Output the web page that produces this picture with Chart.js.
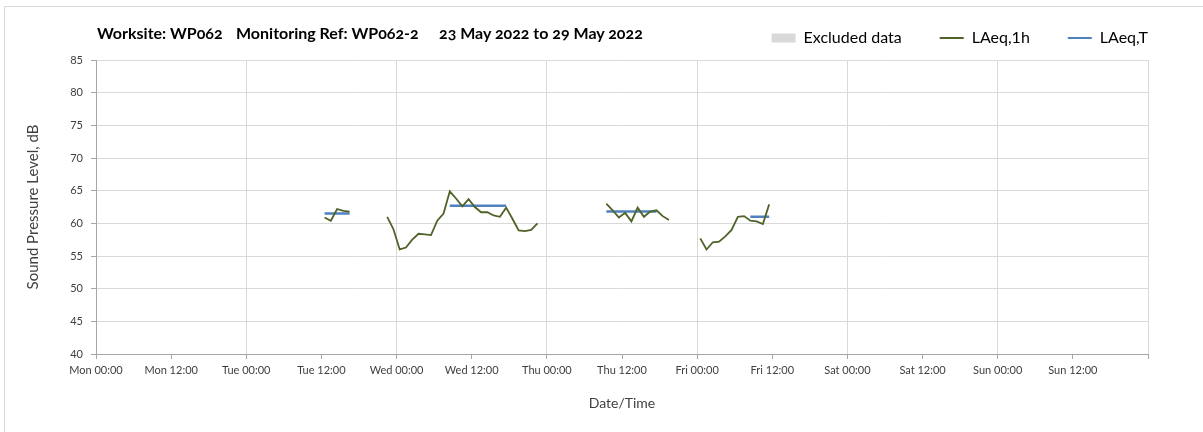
<!DOCTYPE html>
<html>
<head>
<meta charset="utf-8">
<script src="https://cdn.jsdelivr.net/npm/chart.js@4/dist/chart.umd.min.js"></script>
<style>
  html, body { margin: 0; padding: 0; background: #fff; }
  #wrap { position: relative; width: 1203px; height: 432px; overflow: hidden; }
  #frame { position: absolute; left: 4px; top: 6px; width: 1300px; height: 500px;
           border-left: 1px solid #d9d9d9; border-top: 1px solid #d9d9d9; }
  #title { position: absolute; top: 23px; font: bold 16px Lato, sans-serif; color: #000;
           font-variant-numeric: oldstyle-nums; white-space: nowrap; }
  #title span { position: absolute; top: 0; }
</style>
</head>
<body>
<div id="wrap">
  <div id="frame"></div>
  <canvas id="chart" width="1203" height="432"></canvas>
  <div id="title">
    <span style="left:97px">Worksite: WP062</span>
    <span style="left:236px">Monitoring Ref: WP062-2</span>
    <span style="left:439px">23 May 2022 to 29 May 2022</span>
  </div>
</div>
<script>
// Hours from Mon 00:00, values in dB

// LAeq,1h - one array per measured day
const tueHours = [36.5, 37.5, 38.5, 39.5, 40.5];
const tueLAeq1h = [60.9, 60.4, 62.2, 61.9, 61.8];

const wedHours = [46.5, 47.5, 48.5, 49.5, 50.5, 51.5, 52.5, 53.5, 54.5, 55.5, 56.5, 57.5, 58.5,
                  59.5, 60.5, 61.5, 62.5, 63.5, 64.5, 65.5, 66.5, 67.5, 68.5, 69.5, 70.5];
const wedLAeq1h = [61.0, 59.1, 56.0, 56.3, 57.5, 58.4, 58.3, 58.2, 60.4, 61.5, 64.9, 63.8, 62.6,
                   63.7, 62.5, 61.7, 61.7, 61.2, 61.0, 62.4, 60.7, 58.9, 58.8, 59.0, 60.0];

const thuHours = [81.5, 82.5, 83.5, 84.5, 85.5, 86.5, 87.5, 88.5, 89.5, 90.5, 91.5];
const thuLAeq1h = [63.0, 62.0, 60.9, 61.6, 60.3, 62.4, 61.0, 61.8, 62.0, 61.1, 60.5];

const friHours = [96.5, 97.5, 98.5, 99.5, 100.5, 101.5, 102.5, 103.5, 104.5, 105.5, 106.5, 107.5];
const friLAeq1h = [57.7, 56.0, 57.1, 57.2, 58.0, 59.0, 61.0, 61.1, 60.4, 60.3, 59.9, 62.9];

// LAeq,T - one level per period
const laeqTStart = [36.5, 56.5, 81.5, 104.5];
const laeqTEnd = [40.5, 65.5, 89.5, 107.5];
const laeqTValue = [61.5, 62.7, 61.8, 61.0];

const xTickLabels = ['Mon 00:00', 'Mon 12:00', 'Tue 00:00', 'Tue 12:00', 'Wed 00:00', 'Wed 12:00',
                     'Thu 00:00', 'Thu 12:00', 'Fri 00:00', 'Fri 12:00', 'Sat 00:00', 'Sat 12:00',
                     'Sun 00:00', 'Sun 12:00', ''];

function toPoints(hoursList, valuesList) {
    var points = [];
    for (let i = 0; i < hoursList.length; i++) {
        if (i > 0) {
            points.push({x: hoursList[i][0] - 1, y: null});
        }
        for (let j = 0; j < hoursList[i].length; j++) {
            points.push({x: hoursList[i][j], y: valuesList[i][j]});
        }
    }
    return points;
}

function periodPoints() {
    var points = [];
    for (let i = 0; i < laeqTValue.length; i++) {
        if (i > 0) {
            points.push({x: laeqTStart[i] - 1, y: null});
        }
        points.push({x: laeqTStart[i], y: laeqTValue[i]});
        points.push({x: laeqTEnd[i], y: laeqTValue[i]});
    }
    return points;
}

const laeq1hPoints = toPoints([tueHours, wedHours, thuHours, friHours],
                              [tueLAeq1h, wedLAeq1h, thuLAeq1h, friLAeq1h]);

// lift the legend a little so it sits on the title row
const legendNudge = {
    id: 'legendNudge',
    afterLayout: function (chart) {
        chart.legend.top -= 4;
        chart.legend.bottom -= 4;
    }
};

const ctx = document.getElementById('chart').getContext('2d');
const tickFont = {family: 'Lato, sans-serif', size: 11};

new Chart(ctx, {
    type: 'line',
    plugins: [legendNudge],
    data: {
        datasets: [
            {
                label: 'Excluded data',
                data: [],
                backgroundColor: '#d9d9d9',
                borderColor: '#d9d9d9'
            },
            {
                label: 'LAeq,1h',
                data: laeq1hPoints,
                borderColor: '#4f6228',
                borderWidth: 1.8,
                pointRadius: 0,
                spanGaps: false,
                tension: 0
            },
            {
                label: 'LAeq,T',
                data: periodPoints(),
                borderColor: '#4f81bd',
                borderWidth: 2.6,
                pointRadius: 0,
                spanGaps: false
            }
        ]
    },
    options: {
        responsive: false,
        animation: false,
        layout: {padding: {left: 20, right: 17, top: -4, bottom: 0}},
        plugins: {
            tooltip: {enabled: false},
            legend: {
                position: 'top',
                align: 'end',
                labels: {
                    usePointStyle: true,
                    pointStyleWidth: 24,
                    boxHeight: 9,
                    padding: 38,
                    color: '#262626',
                    font: {family: 'Lato, sans-serif', size: 16},
                    generateLabels: function (chart) {
                        return chart.data.datasets.map(function (ds, i) {
                            return {
                                text: ds.label,
                                fillStyle: ds.backgroundColor || ds.borderColor,
                                strokeStyle: ds.borderColor,
                                lineWidth: i == 0 ? 0 : 2,
                                pointStyle: i == 0 ? 'rect' : 'line',
                                hidden: false,
                                datasetIndex: i
                            };
                        });
                    }
                }
            }
        },
        scales: {
            x: {
                type: 'linear',
                min: 0,
                max: 168,
                afterFit: function (scale) { scale.height = 78; },
                ticks: {
                    stepSize: 12,
                    autoSkip: false,
                    maxRotation: 0,
                    padding: 5,
                    color: '#404040',
                    font: tickFont,
                    callback: function (value, index) { return xTickLabels[index]; }
                },
                grid: {
                    color: function (c) {
                        return c.tick && c.tick.value % 24 == 0 ? '#d9d9d9' : 'rgba(0,0,0,0)';
                    },
                    tickColor: '#a6a6a6',
                    tickLength: 5
                },
                border: {color: '#a6a6a6'},
                title: {
                    display: true,
                    text: 'Date/Time',
                    color: '#404040',
                    font: {family: 'Lato, sans-serif', size: 14},
                    padding: {top: 4, bottom: 20}
                }
            },
            y: {
                min: 40,
                max: 85,
                afterFit: function (scale) { scale.width = 76; },
                ticks: {
                    stepSize: 5,
                    padding: 8,
                    color: '#404040',
                    font: tickFont
                },
                grid: {
                    color: '#d9d9d9',
                    tickColor: '#a6a6a6',
                    tickLength: 5
                },
                border: {color: '#a6a6a6'},
                title: {
                    display: true,
                    text: 'Sound Pressure Level, dB',
                    color: '#404040',
                    font: {family: 'Lato, sans-serif', size: 15},
                    padding: {top: 4, bottom: 4}
                }
            },
            // empty right margin so the plot ends under the legend's last word
            spacer: {
                type: 'linear',
                position: 'right',
                afterFit: function (scale) { scale.width = 38; },
                grid: {display: false},
                ticks: {display: false},
                border: {display: false}
            }
        }
    }
});
</script>
</body>
</html>
